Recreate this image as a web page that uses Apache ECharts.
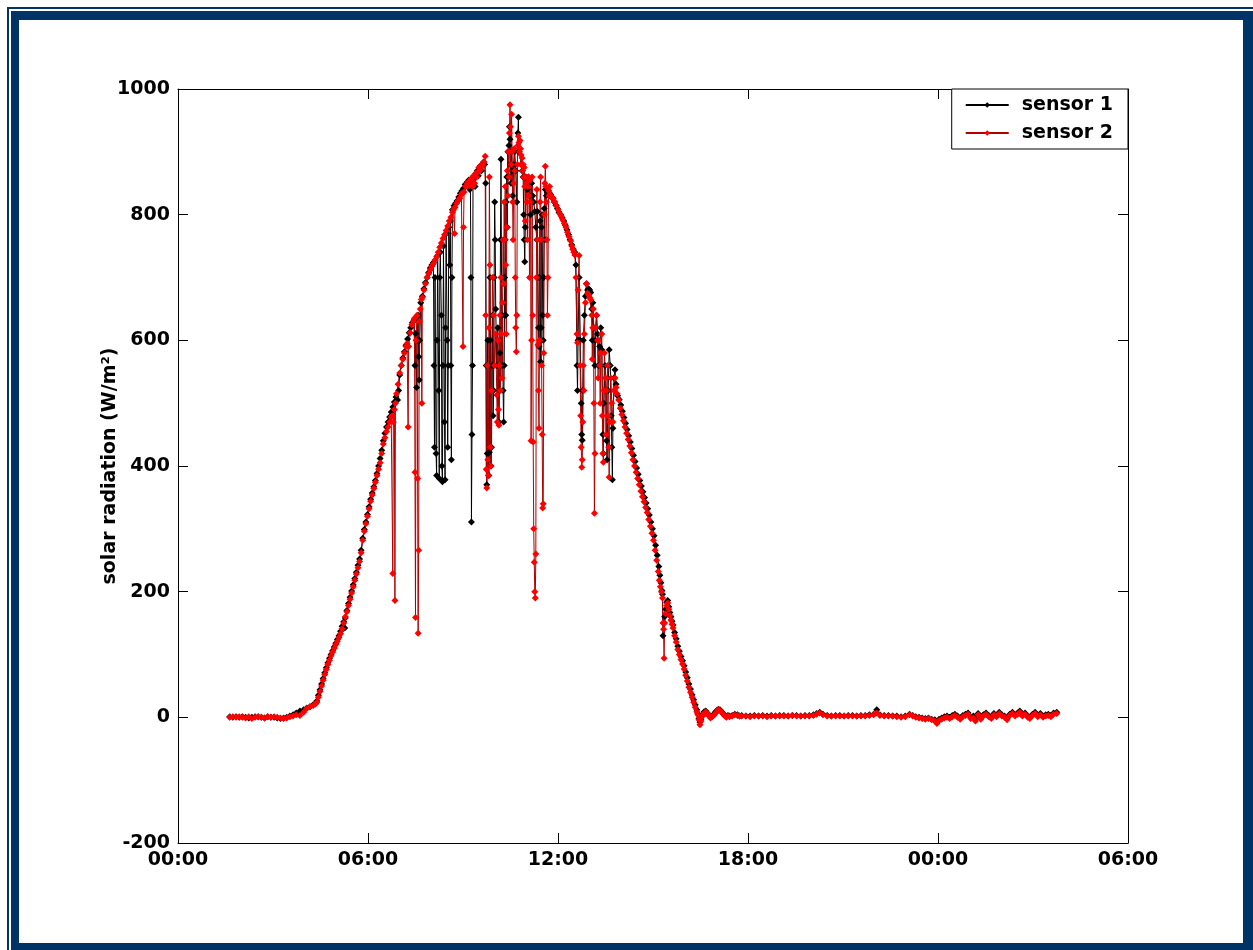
<!DOCTYPE html>
<html>
<head>
<meta charset="utf-8">
<script src="https://cdn.jsdelivr.net/npm/echarts@6/dist/echarts.min.js"></script>
<style>
  html, body { margin: 0; padding: 0; background: #fff; }
  #runChart { width: 1253px; height: 950px; }
</style>
</head>
<body>
<div id="runChart"></div>
<script>
// time in minutes from 00:00 of day 1, value in W/m2
let s1Dawn = [[98,1],[104,0],[110,1],[116,0],[122,1],[128,0],[134,-1],[140,0],[146,1],[152,1],[158,0],[164,-1],[170,1],[176,0],[182,0],[188,-1],[194,-2],[200,-1],[206,0],[212,2],[218,4],[224,7],[231,10],[238,12],[244,15],[250,17],[256,20],[260,22]];
let s2Dawn = [[98,0],[104,1],[110,0],[116,1],[122,0],[128,-1],[134,1],[140,-2],[146,0],[152,1],[158,0],[164,-1],[170,1],[176,0],[182,1],[188,0],[194,-1],[200,-2],[206,-1],[212,1],[218,2],[224,4],[231,3],[238,8],[244,14],[250,17],[256,19],[260,21]];

let s1Rise = [[263,26],[266,35],[269,44],[272,53],[275,62],[278,71],[281,79],[284,87],[287,94],[290,100],[293,106],[296,112],[299,118],[302,124],[305,130],[308,137],[311,145],[314,152],[316,142],[317,158],[320,170],[323,181],[326,191],[329,201],[332,211],[335,221],[338,231],[341,242],[344,252],[347,266],[350,285],[353,299],[356,311],[359,323],[362,335],[365,347],[368,357],[371,367],[374,377],[377,388]];
let s2Rise = [[263,24],[266,32],[269,41],[272,50],[275,59],[278,68],[281,76],[284,84],[287,91],[290,98],[293,104],[296,110],[299,116],[302,121],[305,127],[308,133],[311,141],[314,150],[317,160],[320,168],[323,178],[326,188],[329,198],[332,208],[335,218],[338,228],[341,238],[344,248],[347,262],[350,282],[353,296],[356,308],[359,320],[362,332],[365,344],[368,354],[371,364],[374,374],[377,385]];

let s1Morning = [[380,400],[383,412],[386,425],[389,440],[392,452],[395,462],[398,470],[401,478],[404,486],[407,494],[410,502],[413,510],[416,505],[418,520],[420,545],[423,560],[426,572],[429,582],[432,592],[435,602],[438,612],[441,620],[444,628],[447,632],[449,560],[450,611],[452,525],[453,600],[455,640],[456,574],[457,537],[458,600],[460,660],[463,670],[466,682],[469,692],[472,700],[475,708],[478,715],[481,720],[484,724],[485,560],[486,430],[487,700],[489,420],[490,385],[491,600],[492,735],[494,520],[495,380],[496,700],[497,740],[499,640],[500,400],[501,375],[502,560],[503,750],[505,470],[506,378],[507,620],[508,770],[510,600],[511,430],[512,560],[513,780],[515,720],[516,790],[517,560],[518,410],[519,700],[520,808],[523,814],[526,818],[529,822],[532,828],[535,834],[538,838],[541,842]];
let s2Morning = [[380,395],[383,405],[386,420],[389,435],[392,445],[395,455],[398,462],[401,470],[404,478],[406,480],[407,229],[408,470],[410,490],[411,186],[412,500],[414,515],[417,530],[420,548],[423,560],[426,570],[429,580],[432,590],[434,595],[436,462],[437,590],[440,612],[443,625],[446,630],[448,635],[449,390],[450,159],[451,600],[453,640],[454,380],[455,134],[456,266],[457,630],[459,650],[461,665],[462,500],[463,668],[466,680],[469,690],[472,700],[475,706],[478,712],[481,718],[484,722],[487,728],[490,733],[493,740],[496,748],[499,755],[502,762],[505,768],[508,775],[511,782],[514,790],[517,796],[520,804],[522,808],[524,770],[525,812],[528,818],[531,822],[534,826],[537,832],[539,835],[540,590],[541,780],[542,836]];

let s1Noon = [[544,848],[548,852],[551,855],[553,840],[554,853],[555,700],[556,311],[557,450],[558,560],[559,855],[561,860],[563,845],[565,866],[567,870],[569,862],[571,874],[573,878],[575,870],[577,880],[579,884],[581,880],[583,850],[584,560],[585,370],[586,420],[587,600],[588,410],[589,385],[590,422],[591,700],[592,600],[593,400],[594,430],[595,560],[596,640],[597,480],[598,520],[599,700],[600,820],[601,760],[602,650],[604,560],[606,620],[608,470],[610,580],[611,760],[612,888],[613,700],[614,560],[615,640],[616,520],[617,470],[618,560],[619,700],[620,760],[621,640],[622,820],[623,860],[624,780],[625,900],[626,860],[627,910],[628,940],[629,920],[630,880],[631,850],[632,900],[633,870],[634,830],[636,880],[638,900],[640,870],[642,820],[644,930],[645,955],[646,900],[648,905],[650,880],[652,870],[654,860],[655,800],[656,760],[657,725],[658,780],[659,860],[660,850],[662,840],[664,860],[666,830],[668,800],[670,850],[672,830],[674,820],[676,805],[678,780],[680,760],[681,805],[682,700],[683,620],[684,590],[685,700],[686,790],[687,566],[688,620],[689,780],[690,800],[691,640],[692,600],[693,700],[694,810],[695,760],[696,840],[698,830],[700,835],[702,838],[704,834],[706,832],[708,828]];
let s2Noon = [[545,845],[548,850],[550,852],[552,846],[554,855],[556,858],[558,845],[560,862],[562,850],[564,866],[566,860],[568,868],[570,875],[572,870],[574,876],[576,880],[578,878],[580,884],[582,893],[583,640],[584,395],[585,365],[586,560],[587,410],[588,385],[589,620],[590,860],[591,720],[592,430],[593,400],[594,520],[596,700],[598,640],[600,560],[602,610],[604,513],[605,470],[606,600],[607,490],[608,465],[609,560],[610,640],[611,520],[612,700],[613,610],[614,540],[615,660],[616,760],[617,690],[618,820],[619,760],[620,845],[621,720],[622,610],[623,780],[624,870],[625,830],[626,900],[627,860],[628,930],[629,975],[630,940],[631,880],[632,960],[633,900],[634,820],[635,760],[636,850],[637,905],[638,870],[639,700],[640,620],[641,582],[642,640],[643,880],[644,910],[645,925],[646,915],[647,900],[648,918],[649,905],[650,895],[651,880],[652,890],[653,870],[654,880],[655,860],[656,875],[657,845],[658,790],[659,860],[660,850],[661,820],[662,760],[663,845],[664,860],[665,830],[666,700],[667,855],[668,820],[669,440],[670,600],[671,860],[672,640],[673,438],[674,300],[675,247],[676,200],[677,190],[678,260],[679,700],[680,840],[681,760],[682,593],[683,520],[684,460],[685,600],[686,820],[687,860],[688,760],[689,560],[690,450],[691,333],[692,340],[693,580],[694,800],[695,850],[696,877],[697,845],[698,820],[699,760],[700,640],[701,700],[702,838],[703,830],[704,845],[705,832],[707,828]];

let s1Afternoon = [[710,826],[713,820],[716,815],[719,810],[722,804],[725,800],[728,795],[731,790],[734,783],[737,776],[740,768],[743,760],[746,752],[749,745],[752,740],[754,720],[756,560],[757,520],[758,600],[760,700],[762,600],[764,500],[765,450],[766,441],[767,520],[768,600],[770,640],[772,670],[774,690],[776,680],[778,682],[780,680],[782,676],[784,650],[785,600],[786,660],[788,620],[790,560],[791,600],[793,640],[795,610],[797,560],[799,590],[801,620],[803,585],[805,450],[806,420],[807,500],[809,560],[811,520],[812,440],[813,410],[815,520],[817,585],[819,560],[821,480],[822,430],[823,378],[824,460],[826,540],[828,553],[830,530],[833,512]];
let s2Afternoon = [[711,826],[714,820],[717,814],[720,808],[723,802],[726,798],[729,792],[732,786],[735,780],[738,772],[741,765],[744,758],[746,750],[748,745],[750,740],[752,736],[754,700],[756,610],[757,596],[758,680],[760,735],[762,560],[763,480],[764,430],[765,398],[766,410],[767,470],[768,560],[769,520],[770,610],[772,660],[774,690],[776,675],[778,672],[780,668],[782,665],[784,640],[785,570],[786,620],[787,650],[788,500],[789,325],[790,420],[791,620],[793,640],[795,600],[796,540],[797,600],[799,560],[800,500],[801,580],[803,610],[804,480],[805,420],[806,406],[807,520],[808,580],[810,540],[811,450],[812,520],[814,560],[815,480],[816,430],[817,382],[818,470],[820,540],[822,500],[824,470],[826,520],[828,540],[830,525],[832,515]];

let s1Fall = [[836,506],[839,497],[842,487],[845,477],[848,468],[851,458],[854,448],[857,438],[860,428],[863,417],[866,407],[869,397],[872,387],[875,377],[878,368],[881,359],[884,350],[887,341],[890,332],[893,322],[896,311],[899,300],[902,289],[905,274],[908,258],[911,240],[913,226],[915,214],[917,202],[918,196],[919,130],[920,150],[922,160],[924,172],[926,183],[928,186],[930,176],[932,167],[934,160],[936,153],[938,147],[941,135],[944,125],[947,113],[950,105],[953,97],[956,90],[959,82],[962,72],[965,63],[968,53],[971,45],[974,36],[977,28],[980,20],[983,12],[985,6],[987,-2],[989,-8],[991,-3],[994,4],[997,9],[1000,10],[1003,7],[1006,3],[1009,1],[1012,2],[1015,5],[1018,8],[1021,11],[1024,13],[1027,12],[1030,9],[1033,6],[1036,3],[1039,1],[1042,3],[1045,2],[1050,3],[1055,5],[1060,4],[1064,2]];
let s2Fall = [[835,505],[838,492],[841,482],[844,472],[847,462],[850,452],[853,442],[856,432],[859,421],[862,410],[865,400],[868,390],[871,380],[874,370],[877,360],[880,351],[883,343],[886,334],[889,326],[892,315],[895,304],[898,293],[901,282],[904,266],[907,250],[910,232],[912,218],[914,208],[916,200],[918,190],[919,150],[920,140],[921,94],[922,150],[924,165],[926,178],[928,182],[930,172],[932,162],[934,155],[936,148],[938,142],[941,130],[944,120],[947,108],[950,100],[953,92],[956,85],[959,77],[962,67],[965,58],[968,48],[971,40],[974,32],[977,24],[980,16],[983,9],[985,4],[987,-4],[989,-12],[991,-6],[994,2],[997,6],[1000,9],[1003,6],[1006,2],[1009,-1],[1012,1],[1015,3],[1018,6],[1021,9],[1024,12],[1027,11],[1030,8],[1033,5],[1036,2],[1039,0],[1042,2],[1045,1],[1050,2],[1055,4],[1060,3],[1064,2]];

let s1Night = [[1068,3],[1076,2],[1084,2],[1092,3],[1100,2],[1108,3],[1116,2],[1124,3],[1132,2],[1140,3],[1148,3],[1156,2],[1164,3],[1172,3],[1180,2],[1188,3],[1196,3],[1204,4],[1210,6],[1216,8],[1222,5],[1230,3],[1238,2],[1246,3],[1254,3],[1262,2],[1270,3],[1278,3],[1286,2],[1294,3],[1302,3],[1310,4],[1318,5],[1324,12],[1330,4],[1338,3],[1346,3],[1354,2],[1362,2],[1370,1],[1378,2],[1386,5],[1392,3],[1398,1],[1404,0],[1410,-1],[1416,-2],[1422,-1],[1428,-3],[1434,-4],[1438,-8],[1442,-3],[1447,-1],[1452,1],[1457,2],[1462,0],[1467,3],[1472,5],[1477,2],[1482,-1],[1487,3],[1492,5],[1497,7],[1502,0],[1507,2],[1511,-3],[1516,6],[1521,-1],[1526,4],[1531,7],[1536,3],[1541,0],[1546,6],[1551,3],[1556,8],[1561,4],[1566,2],[1571,-2],[1576,5],[1581,8],[1586,4],[1591,7],[1595,10],[1600,4],[1605,7],[1610,2],[1614,0],[1619,5],[1624,8],[1629,3],[1634,6],[1639,2],[1644,4],[1649,5],[1654,3],[1659,7],[1665,8]];
let s2Night = [[1068,2],[1076,2],[1084,1],[1092,2],[1100,2],[1108,2],[1116,1],[1124,2],[1132,2],[1140,2],[1148,2],[1156,2],[1164,3],[1172,2],[1180,2],[1188,2],[1196,2],[1204,3],[1210,5],[1216,7],[1222,4],[1230,2],[1238,2],[1246,2],[1254,2],[1262,2],[1270,2],[1278,2],[1286,2],[1294,2],[1302,2],[1310,3],[1318,4],[1324,7],[1330,3],[1338,2],[1346,2],[1354,2],[1362,1],[1370,0],[1378,1],[1386,4],[1392,2],[1398,0],[1404,-1],[1410,-2],[1416,-3],[1422,-2],[1428,-4],[1434,-6],[1438,-10],[1442,-5],[1447,-3],[1452,-1],[1457,0],[1462,-2],[1467,1],[1472,3],[1477,0],[1482,-3],[1487,1],[1492,3],[1497,5],[1502,-2],[1507,-1],[1511,-6],[1516,4],[1521,-3],[1526,2],[1531,5],[1536,1],[1541,-2],[1546,4],[1551,1],[1556,6],[1561,2],[1566,0],[1571,-4],[1576,3],[1581,6],[1586,2],[1591,5],[1595,8],[1600,2],[1605,5],[1610,0],[1614,-2],[1619,3],[1624,6],[1629,1],[1634,4],[1639,0],[1644,2],[1649,3],[1654,1],[1659,5],[1665,6]];

let sensor1 = [].concat(s1Dawn, s1Rise, s1Morning, s1Noon, s1Afternoon, s1Fall, s1Night);
let sensor2 = [].concat(s2Dawn, s2Rise, s2Morning, s2Noon, s2Afternoon, s2Fall, s2Night);

let xTicks = [0, 360, 720, 1080, 1440, 1800];
let yTicks = [-200, 0, 200, 400, 600, 800, 1000];

const font = "DejaVu Sans";
const navy = "#003366";

function hhmm(v) {
  let h = Math.floor(v / 60) % 24;
  return (h < 10 ? "0" + h : "" + h) + ":00";
}

let option = {
  backgroundColor: "#fff",
  animation: false,
  graphic: [
    { type: "rect", shape: { x: 7, y: 7, width: 1246, height: 2 }, style: { fill: navy } },
    { type: "rect", shape: { x: 7, y: 7, width: 2, height: 943 }, style: { fill: navy } },
    { type: "rect", shape: { x: 11, y: 11, width: 1242, height: 9 }, style: { fill: navy } },
    { type: "rect", shape: { x: 11, y: 11, width: 8, height: 939 }, style: { fill: navy } },
    { type: "rect", shape: { x: 1243, y: 11, width: 10, height: 939 }, style: { fill: navy } },
    { type: "rect", shape: { x: 11, y: 943, width: 1242, height: 7 }, style: { fill: navy } }
  ],
  grid: {
    left: 178,
    right: 125,
    top: 89,
    bottom: 107
  },
  legend: {
    data: ["sensor 1", "sensor 2"],
    orient: "vertical",
    right: 125,
    top: 89,
    padding: [5, 15, 5, 13],
    itemGap: 6,
    itemWidth: 43,
    itemHeight: 7,
    backgroundColor: "#fff",
    borderColor: "#000",
    borderWidth: 1,
    borderRadius: 0,
    textStyle: {
      fontFamily: font,
      fontSize: 19,
      fontWeight: "bold",
      color: "#000",
      lineHeight: 22,
      padding: [0, 0, 0, 8]
    }
  },
  xAxis: [
    {
      type: "value",
      min: xTicks[0],
      max: xTicks[xTicks.length - 1],
      interval: 360,
      axisLine: { show: true, onZero: false, lineStyle: { color: "#000", width: 1 } },
      axisTick: { inside: true, length: 10, lineStyle: { color: "#000" } },
      axisLabel: {
        margin: 8,
        fontFamily: font,
        fontSize: 19,
        fontWeight: "bold",
        color: "#000",
        formatter: hhmm
      },
      splitLine: { show: false }
    },
    {
      type: "value",
      position: "top",
      min: xTicks[0],
      max: xTicks[xTicks.length - 1],
      interval: 360,
      axisLine: { show: true, onZero: false, lineStyle: { color: "#000", width: 1 } },
      axisTick: { inside: true, length: 10, lineStyle: { color: "#000" } },
      axisLabel: { show: false },
      splitLine: { show: false }
    }
  ],
  yAxis: [
    {
      type: "value",
      min: yTicks[0],
      max: yTicks[yTicks.length - 1],
      interval: 200,
      name: "solar radiation (W/m\u00b2)",
      nameLocation: "middle",
      nameRotate: 90,
      nameGap: 58,
      nameMoveOverlap: false,
      nameTextStyle: {
        fontFamily: font,
        fontSize: 19,
        fontWeight: "bold",
        color: "#000"
      },
      axisLine: { show: true, onZero: false, lineStyle: { color: "#000", width: 1 } },
      axisTick: { inside: true, length: 10, lineStyle: { color: "#000" } },
      axisLabel: {
        margin: 8,
        fontFamily: font,
        fontSize: 19,
        fontWeight: "bold",
        color: "#000",
        formatter: function (v) { return String(v); }
      },
      splitLine: { show: false }
    },
    {
      type: "value",
      position: "right",
      min: yTicks[0],
      max: yTicks[yTicks.length - 1],
      interval: 200,
      axisLine: { show: true, onZero: false, lineStyle: { color: "#000", width: 1 } },
      axisTick: { inside: true, length: 10, lineStyle: { color: "#000" } },
      axisLabel: { show: false },
      splitLine: { show: false }
    }
  ],
  series: [
    {
      name: "sensor 1",
      type: "line",
      data: sensor1,
      symbol: "diamond",
      symbolSize: 7,
      showSymbol: true,
      lineStyle: { color: "#000", width: 1 },
      itemStyle: { color: "#000" }
    },
    {
      name: "sensor 2",
      type: "line",
      data: sensor2,
      symbol: "diamond",
      symbolSize: 7,
      showSymbol: true,
      lineStyle: { color: "#b00000", width: 1 },
      itemStyle: { color: "#ff0000" }
    }
  ]
};

var myChart = echarts.init(document.getElementById("runChart"));
myChart.setOption(option);
</script>
</body>
</html>
